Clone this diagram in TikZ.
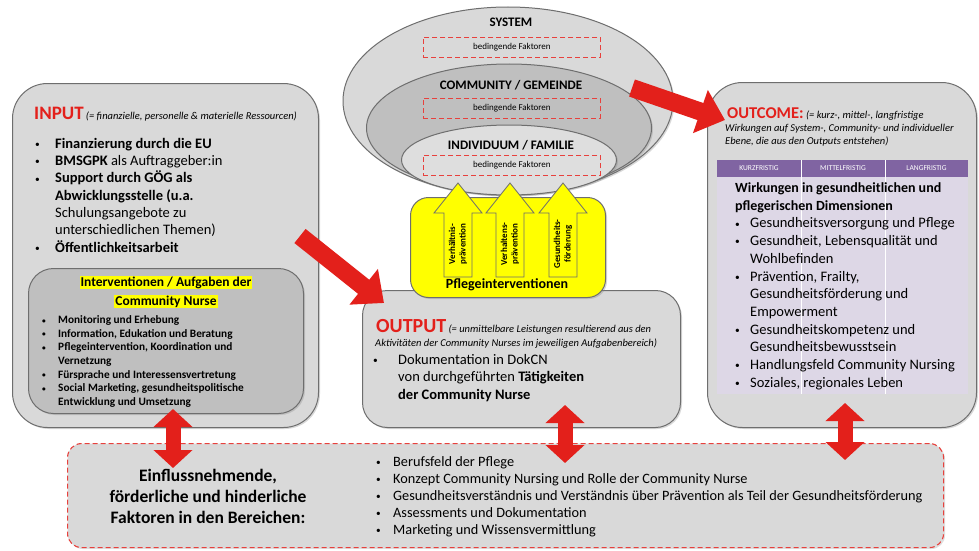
\documentclass[tikz,border=0pt]{standalone}
\usepackage{fontspec}
\setmainfont{Carlito}
\usetikzlibrary{shapes.geometric,arrows.meta,shadows}
\definecolor{boxgray}{HTML}{D9D9D9}
\definecolor{midgray}{HTML}{BFBFBF}
\definecolor{indgray}{HTML}{DEDEDE}
\definecolor{bordergray}{HTML}{6E6E6E}
\definecolor{cnred}{HTML}{E3201B}
\definecolor{purp}{HTML}{8064A2}
\definecolor{lav}{HTML}{DDD7E6}
\definecolor{yel}{HTML}{FFFF00}
\newcommand\fs[2]{\fontsize{#1}{#2}\selectfont}
\newcommand\bul{\raisebox{0.12ex}{\scalebox{0.65}{\textbullet}}}
\begin{document}
\begin{tikzpicture}[x=1pt,y=-1pt,
  panel/.style={draw=bordergray, line width=1pt, fill=boxgray, rounded corners=#1,
    anchor=north west, inner sep=0pt,
    drop shadow={opacity=0.3, shadow xshift=1.5pt, shadow yshift=-1.5pt}},
  panel/.default=20pt,
  ring/.style={ellipse, draw=bordergray, line width=1pt, inner sep=0pt,
    drop shadow={opacity=0.3, shadow xshift=1.5pt, shadow yshift=-1.5pt}},
  factbox/.style={draw=cnred!85, dash pattern=on 5pt off 3pt, line width=0.9pt,
    minimum width=177pt, minimum height=20pt, inner sep=0pt,
    font=\fs{9}{10}, anchor=north west},
  ringtitle/.style={font=\fs{13}{14}\bfseries, inner sep=0pt},
  txt/.style={anchor=north west, inner sep=0pt, align=left},
  note/.style={anchor=base west, inner sep=0pt, font=\fs{10.5}{11}\itshape},
  bigred/.style={draw=cnred, line width=18pt, -{Triangle[width=44pt,length=26pt]}},
  dblred/.style={draw=cnred, line width=15pt,
    {Triangle[width=38pt,length=18pt]}-{Triangle[width=38pt,length=18pt]}},
  yarrow/.style={draw=bordergray, fill=yel, line width=0.8pt, line join=miter},
  ylabel/.style={rotate=90, font=\fs{9}{10.5}\bfseries, align=center, inner sep=0pt},
  hdr/.style={font=\fs{7.5}{8}, text=white, inner sep=0pt}
]
\useasboundingbox[fill=white] (0,0) rectangle (979,551);

% ---------------- INPUT ----------------
\node[panel=35pt, minimum width=306pt, minimum height=344pt] (input) at (12,83) {};
\node[anchor=base west, inner sep=0pt] (inputtitle) at (34,119)
  {{\fs{19}{20}\bfseries\color{cnred}INPUT} {\fs{10.5}{11}\itshape(= finanzielle, personelle \& materielle Ressourcen)}};
\node[txt, font=\fs{14.5}{17.3}] (inputlist) at (35,136)
  {\begin{tabular}{@{}p{20pt}@{}l@{}}
   \bul & \textbf{Finanzierung durch die EU}\\
   \bul & \textbf{BMSGPK} als Auftraggeber:in\\
   \bul & \textbf{Support durch GÖG als}\\
        & \textbf{Abwicklungsstelle (u.a.}\\
        & Schulungsangebote zu\\
        & unterschiedlichen Themen)\\
   \bul & \textbf{Öffentlichkeitsarbeit}
   \end{tabular}};

\node[panel=25pt, fill=midgray, minimum width=275pt, minimum height=145pt] (interv) at (28,268) {};
\node[inner sep=0pt, align=center, font=\fs{13.5}{19}\bfseries] (intervtitle) at (166,292)
  {\setlength{\fboxsep}{1pt}\colorbox{yel}{Interventionen / Aufgaben der}\\
   \setlength{\fboxsep}{1pt}\colorbox{yel}{Community Nurse}};
\node[txt, font=\fs{11.3}{13.6}\bfseries] (intervlist) at (42,314)
  {\begin{tabular}{@{}p{16pt}@{}l@{}}
   \bul & Monitoring und Erhebung\\
   \bul & Information, Edukation und Beratung\\
   \bul & Pflegeintervention, Koordination und\\
        & Vernetzung\\
   \bul & Fürsprache und Interessensvertretung\\
   \bul & Social Marketing, gesundheitspolitische\\
        & Entwicklung und Umsetzung
   \end{tabular}};

% ---------------- SYSTEM ellipses ----------------
\node[ring, fill=boxgray, minimum width=330pt, minimum height=188pt] (sys) at (508,101) {};
\node[ring, fill=midgray, minimum width=285pt, minimum height=128pt] (com) at (509,128) {};
\node[ring, fill=indgray, minimum width=215pt, minimum height=70pt] (ind) at (509,160) {};
\node[ringtitle] (systitle) at (511,22) {SYSTEM};
\node[factbox] (sysf) at (423,37) {bedingende Faktoren};
\node[ringtitle] (comtitle) at (511,85) {COMMUNITY / GEMEINDE};
\node[factbox] (comf) at (423,98) {bedingende Faktoren};
\node[ringtitle] (indtitle) at (511,145) {INDIVIDUUM / FAMILIE};
\node[factbox] (indf) at (423,155) {bedingende Faktoren};

% ---------------- OUTPUT ----------------
\node[panel=25pt, minimum width=318pt, minimum height=137pt] (output) at (362,290) {};
\node[anchor=base west, inner sep=0pt] (outputtitle) at (376,332)
  {{\fs{20}{20}\bfseries\color{cnred}OUTPUT} {\fs{10.5}{11}\itshape(= unmittelbare Leistungen resultierend aus den}};
\node[note] (outputnote) at (375,346) {Aktivitäten der Community Nurses im jeweiligen Aufgabenbereich)};
\node[txt, font=\fs{14.5}{17.5}] (outputlist) at (373,352)
  {\begin{tabular}{@{}p{25pt}@{}l@{}}
   \bul & Dokumentation in DokCN\\
        & von durchgeführten \textbf{Tätigkeiten}\\
        & \textbf{der Community Nurse}
   \end{tabular}};

% ---------------- Pflegeinterventionen ----------------
\node[draw=bordergray, line width=1pt, fill=yel, rounded corners=18pt, anchor=north west,
  minimum width=195pt, minimum height=100pt, inner sep=0pt,
  drop shadow={opacity=0.3, shadow xshift=1.5pt, shadow yshift=-1.5pt}] (pflege) at (410,197) {};
\node[font=\fs{14}{15}\bfseries, inner sep=0pt] (pflegetitle) at (507,285) {Pflegeinterventionen};
\foreach \cx/\nm/\lab in {458/va/{Verhältnis-\\prävention}, 510/vb/{Verhaltens-\\prävention}, 563/vc/{Gesundheits-\\förderung}}{
  \draw[yarrow] ({\cx-14},277) -- ({\cx-14},213) -- ({\cx-24},213) -- (\cx,183)
     -- ({\cx+24},213) -- ({\cx+14},213) -- ({\cx+14},277) -- cycle;
  \node[ylabel] (\nm) at (\cx,244) {\lab};
}

% ---------------- OUTCOME ----------------
\node[panel=35pt, minimum width=269pt, minimum height=345pt] (outcome) at (707,82) {};
\node[anchor=base west, inner sep=0pt] (outcometitle) at (727,118)
  {{\fs{16.5}{18}\bfseries\color{cnred}OUTCOME:} {\fs{10.5}{11}\itshape(= kurz-, mittel-, langfristige}};
\node[note] (outcomenote1) at (725,131) {Wirkungen auf System-, Community- und individueller};
\node[note] (outcomenote2) at (725,144) {Ebene, die aus den Outputs entstehen)};
\node[fill=lav, anchor=north west, minimum width=251pt, minimum height=217pt, inner sep=0pt] (body) at (717,177) {};
\node[fill=purp, anchor=north west, minimum width=251pt, minimum height=17pt, inner sep=0pt] (header) at (717,160) {};
\draw[white, line width=0.8pt] (801,160) -- (801,394);
\draw[white, line width=0.8pt] (885,160) -- (885,394);
\node[hdr] (h1) at (759,168.5) {KURZFRISTIG};
\node[hdr] (h2) at (843,168.5) {MITTELFRISTIG};
\node[hdr] (h3) at (926.5,168.5) {LANGFRISTIG};
\node[txt, font=\fs{14.5}{17.7}] (outcomelist) at (735,180)
  {\begin{tabular}{@{}p{15pt}@{}l@{}}
   \multicolumn{2}{@{}l@{}}{\fs{14}{17.7}\textbf{Wirkungen in gesundheitlichen und}}\\
   \multicolumn{2}{@{}l@{}}{\fs{14}{17.7}\textbf{pflegerischen Dimensionen}}\\
   \bul & Gesundheitsversorgung und Pflege\\
   \bul & Gesundheit, Lebensqualität und\\
        & Wohlbefinden\\
   \bul & Prävention, Frailty,\\
        & Gesundheitsförderung und\\
        & Empowerment\\
   \bul & Gesundheitskompetenz und\\
        & Gesundheitsbewusstsein\\
   \bul & Handlungsfeld Community Nursing\\
   \bul & Soziales, regionales Leben
   \end{tabular}};

% ---------------- Bottom factors ----------------
\node[draw=cnred!85, dash pattern=on 5pt off 3pt, line width=1.1pt, fill=boxgray,
  rounded corners=14pt, anchor=north west, minimum width=876pt, minimum height=104pt,
  inner sep=0pt, drop shadow={opacity=0.25, shadow xshift=1.5pt, shadow yshift=-1.5pt}] (factors) at (67,443) {};
\node[inner sep=0pt, align=center, font=\fs{17.5}{21}\bfseries] (factorstitle) at (208,496)
  {Einflussnehmende,\\förderliche und hinderliche\\Faktoren in den Bereichen:};
\node[txt, font=\fs{14.3}{17}] (factorlist) at (376,454)
  {\begin{tabular}{@{}p{17pt}@{}l@{}}
   \bul & Berufsfeld der Pflege\\
   \bul & Konzept Community Nursing und Rolle der Community Nurse\\
   \bul & Gesundheitsverständnis und Verständnis über Prävention als Teil der Gesundheitsförderung\\
   \bul & Assessments und Dokumentation\\
   \bul & Marketing und Wissensvermittlung
   \end{tabular}};

% ---------------- Red arrows ----------------
\coordinate (a1s) at (300,236);
\coordinate (a1e) at (384,303);
\coordinate (a2s) at (632,88);
\coordinate (a2e) at (725,120);
\coordinate (d1s) at (173,409);
\coordinate (d1e) at (173,468);
\coordinate (d2s) at (565,405);
\coordinate (d2e) at (565,463);
\coordinate (d3s) at (845,403);
\coordinate (d3e) at (845,460);
\draw[bigred] (a1s) -- (a1e);
\draw[bigred] (a2s) -- (a2e);
\draw[dblred] (d1s) -- (d1e);
\draw[dblred] (d2s) -- (d2e);
\draw[dblred] (d3s) -- (d3e);
\end{tikzpicture}
\end{document}
